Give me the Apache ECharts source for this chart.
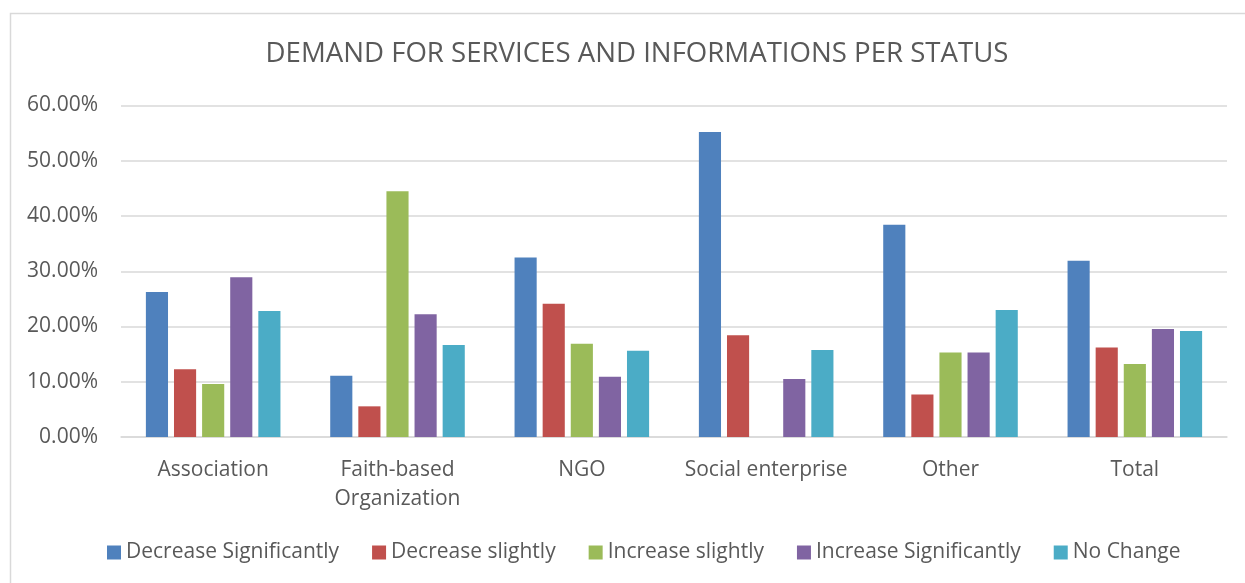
<!DOCTYPE html>
<html>
<head>
<meta charset="utf-8">
<script src="https://cdn.jsdelivr.net/npm/echarts@6/dist/echarts.min.js"></script>
<style>
  html, body { margin: 0; padding: 0; background: #ffffff; }
  #chart { width: 1245px; height: 583px; }
</style>
</head>
<body>
<div id="chart"></div>
<script>
// Organisation status groups
const categories = ['Association', 'Faith-based\nOrganization', 'NGO', 'Social enterprise', 'Other', 'Total'];

// Share of respondents per answer (fractions)
const decreaseSignificantly = [0.2625, 0.111, 0.325, 0.552, 0.384, 0.319];
const decreaseSlightly      = [0.1225, 0.0555, 0.241, 0.184, 0.077, 0.162];
const increaseSlightly      = [0.096, 0.445, 0.169, 0.0, 0.153, 0.132];
const increaseSignificantly = [0.289, 0.222, 0.109, 0.105, 0.153, 0.1955];
const noChange              = [0.228, 0.1665, 0.156, 0.1575, 0.230, 0.192];

const yTicks = { min: 0, max: 0.6, interval: 0.1 };

const seriesDefs = [
  { name: 'Decrease Significantly', data: decreaseSignificantly, color: '#4f81bd' },
  { name: 'Decrease slightly',      data: decreaseSlightly,      color: '#c0504d' },
  { name: 'Increase slightly',      data: increaseSlightly,      color: '#9bbb59' },
  { name: 'Increase Significantly', data: increaseSignificantly, color: '#8064a2' },
  { name: 'No Change',              data: noChange,              color: '#4bacc6' }
];

const FONT = '"Open Sans", "DejaVu Sans", sans-serif';
const TEXT = '#595959';

const chart = echarts.init(document.getElementById('chart'), null, { renderer: 'canvas' });

chart.setOption({
  backgroundColor: '#ffffff',
  animation: false,
  title: {
    text: 'DEMAND FOR SERVICES AND INFORMATIONS PER STATUS',
    left: 632,
    textAlign: 'center',
    top: 35,
    textStyle: { color: TEXT, fontFamily: FONT, fontSize: 27.6, fontWeight: 'normal' }
  },
  graphic: [{
    type: 'rect',
    shape: { x: 10.5, y: 13.5, width: 1260, height: 600 },
    style: { fill: 'none', stroke: '#d9d9d9', lineWidth: 1.5 },
    silent: true,
    z: -1
  }],
  legend: {
    bottom: 15,
    left: 102,
    icon: 'rect',
    itemWidth: 14,
    itemHeight: 14,
    itemGap: 33,
    textStyle: { color: TEXT, fontFamily: FONT, fontSize: 21 },
    data: seriesDefs.map(s => s.name)
  },
  grid: { left: 121, right: 18, top: 105.5, bottom: 146, containLabel: false },
  xAxis: {
    type: 'category',
    data: categories,
    axisLine: { lineStyle: { color: '#d9d9d9', width: 1.5 } },
    axisTick: { show: false },
    axisLabel: { color: TEXT, fontFamily: FONT, fontSize: 21, margin: 19, lineHeight: 29, interval: 0 }
  },
  yAxis: {
    type: 'value',
    min: yTicks.min,
    max: yTicks.max,
    interval: yTicks.interval,
    axisLine: { show: false },
    axisTick: { show: false },
    splitLine: { lineStyle: { color: '#d9d9d9', width: 1.5 } },
    axisLabel: {
      color: TEXT, fontFamily: FONT, fontSize: 21, margin: 23,
      formatter: v => (v * 100).toFixed(2) + '%'
    }
  },
  series: seriesDefs.map(s => ({
    name: s.name,
    type: 'bar',
    data: s.data,
    barGap: '27%',
    barCategoryGap: '27%',
    itemStyle: { color: s.color }
  }))
});
</script>
</body>
</html>
